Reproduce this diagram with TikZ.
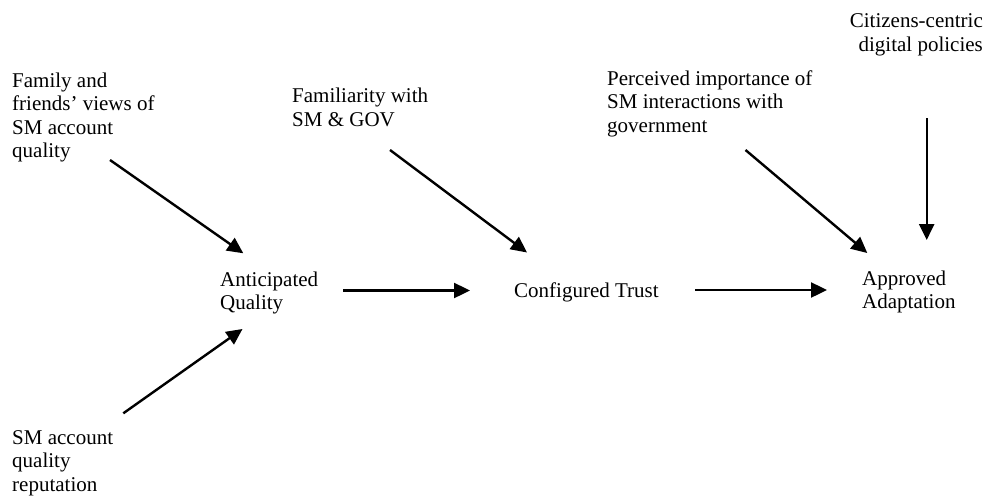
\documentclass[tikz,border=0pt]{standalone}
\usepackage{fontspec}
\setmainfont{Liberation Serif}
\usetikzlibrary{arrows.meta}

\begin{document}
\begin{tikzpicture}[
		x=1pt,y=-1pt,
		factor/.style={inner sep=0pt,align=left,anchor=north west,
			font=\fontsize{21}{23.5}\selectfont},
		link/.style={line width=2.4pt,-{Triangle[length=16pt,width=15pt]}}
		]
		\useasboundingbox (0,0) rectangle (984,498);
		\node[factor] (family) at (12,72.5) {Family and\\friends’ views of\\SM account\\quality};
		\node[factor] (reput) at (12,430) {SM account\\quality\\reputation};
		\node[factor] (antq) at (220,271.5) {Anticipated\\Quality};
		\node[factor] (famil) at (292,88) {Familiarity with\\SM \& GOV};
		\node[factor] (trust) at (514,283) {Configured Trust};
		\node[factor] (percv) at (607,70.5) {Perceived importance of\\SM interactions with\\government};
		\node[factor,align=right,anchor=north east] (citiz) at (983,13.5) {Citizens-centric\\digital policies};
		\node[factor] (adapt) at (862,270.5) {Approved\\Adaptation};
		\path [link]
		([shift={(98,87.5)}]family.north west) edge ([shift={(23.3,-18.2)}]antq.north west)
		([shift={(111.3,-16.7)}]reput.north west) edge ([shift={(22.5,57.5)}]antq.north west)
		([shift={(123,19)}]antq.north west) edge ([shift={(-44,7.5)}]trust.north west)
		([shift={(98,62)}]famil.north west) edge ([shift={(13,-30.5)}]trust.north west)
		([shift={(181,7)}]trust.north west) edge ([shift={(-35,19.5)}]adapt.north west)
		([shift={(138.5,79.5)}]percv.north west) edge ([shift={(5.3,-17.5)}]adapt.north west)
		([shift={(-56.3,104.5)}]citiz.north east) edge ([shift={(64.7,-30.5)}]adapt.north west);
	\end{tikzpicture}
\end{document}
